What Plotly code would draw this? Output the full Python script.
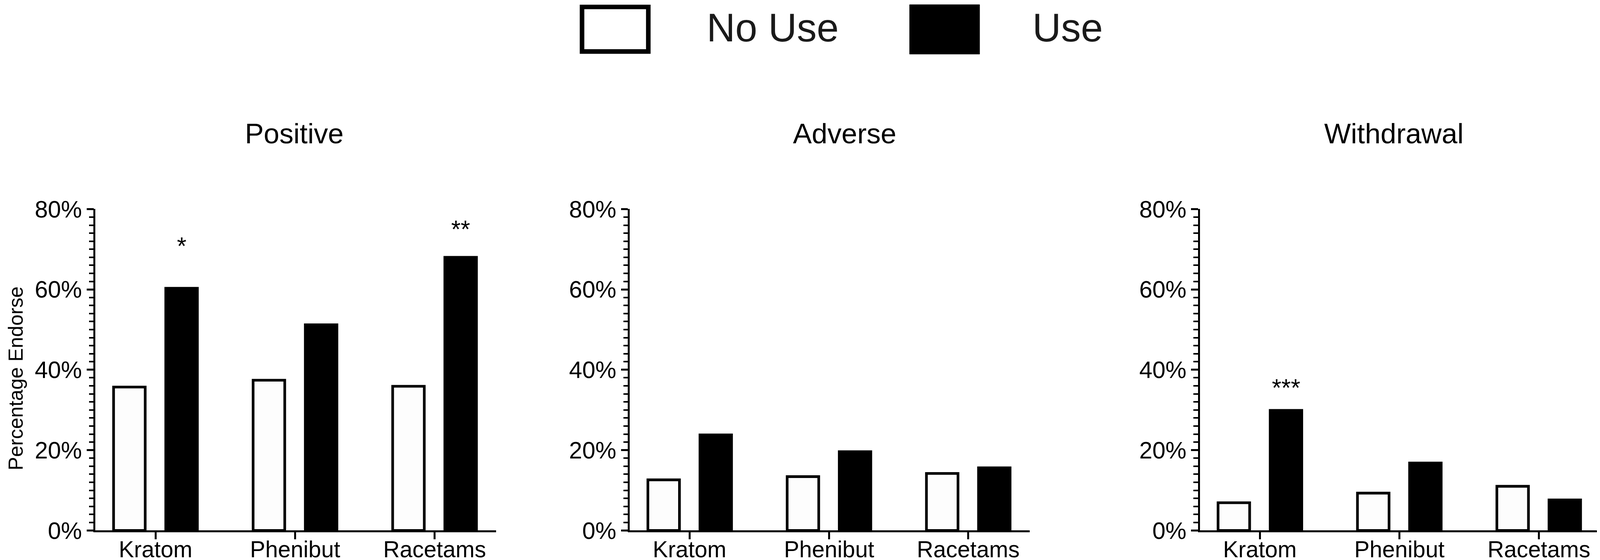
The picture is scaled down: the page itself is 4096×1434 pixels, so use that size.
import plotly.graph_objects as go

# ---------------- data ----------------
categories = ["Kratom", "Phenibut", "Racetams"]
panel_titles = ["Positive", "Adverse", "Withdrawal"]

positive_no_use = [35.7, 37.4, 35.9]
positive_use = [60.3, 51.2, 68.0]
adverse_no_use = [12.6, 13.4, 14.2]
adverse_use = [23.8, 19.6, 15.6]
withdrawal_no_use = [6.9, 9.3, 11.0]
withdrawal_use = [29.9, 16.8, 7.6]

positive_sig = ["*", "", "**"]
adverse_sig = ["", "", ""]
withdrawal_sig = ["***", "", ""]
# vertical centre of each significance mark (percent)
positive_sig_y = [70.9, None, 75.0]
adverse_sig_y = [None, None, None]
withdrawal_sig_y = [35.6, None, None]

y_tick_vals = [0, 20, 40, 60, 80]
y_tick_text = ["0%", "20%", "40%", "60%", "80%"]
series_names = ["No Use", "Use"]
y_title = "Percentage Endorse"

# ---------------- layout constants ----------------
S = 0.975
W, H = 4096, 1434
FONT = "Liberation Sans, Arial, Helvetica, sans-serif"


def fx(px):
    return px * S / W


def fy(px):
    return 1 - px * S / H


panel_px = [(242.5, 1294), (1645.5, 2695), (3142.5, 4193)]
title_cx = [765, 2210, 3652]
y_top_px, y_bot_px = 541, 1385

LW = 5 * S
BAR_LW = 7 * S
BARGAP = 0.252
BARGROUPGAP = 0.394
TICK_FONT = 62 * S
CAT_FONT = 60 * S

no_use_sets = [positive_no_use, adverse_no_use, withdrawal_no_use]
use_sets = [positive_use, adverse_use, withdrawal_use]
sig_sets = [positive_sig, adverse_sig, withdrawal_sig]
sig_y_sets = [positive_sig_y, adverse_sig_y, withdrawal_sig_y]

fig = go.Figure()
annotations = []
shapes = []

for i, title in enumerate(panel_titles):
    sfx = "" if i == 0 else str(i + 1)
    xa, ya = "x" + sfx, "y" + sfx
    fig.add_trace(go.Bar(
        x=categories, y=no_use_sets[i], name=series_names[0],
        xaxis=xa, yaxis=ya, showlegend=False,
        marker=dict(color="#fdfdfd", line=dict(color="black", width=BAR_LW)),
    ))
    fig.add_trace(go.Bar(
        x=categories, y=use_sets[i], name=series_names[1],
        xaxis=xa, yaxis=ya, showlegend=False,
        marker=dict(color="black", line=dict(color="black", width=BAR_LW)),
    ))
    x0, x1 = panel_px[i]
    xaxis = dict(
        domain=[fx(x0), fx(x1)], anchor=ya, automargin=False,
        type="category", categoryorder="array", categoryarray=categories,
        range=[-0.43, 2.44], fixedrange=True,
        showline=True, linecolor="black", linewidth=LW,
        ticks="outside", ticklen=18 * S, tickwidth=LW, tickcolor="black",
        showticklabels=False,
        showgrid=False, zeroline=False,
    )
    yaxis = dict(
        domain=[fy(y_bot_px), fy(y_top_px)], anchor=xa, automargin=False,
        range=[0, 80], fixedrange=True,
        showline=True, linecolor="black", linewidth=LW,
        tickmode="array", tickvals=y_tick_vals, ticktext=y_tick_text,
        ticks="outside", ticklen=18 * S, tickwidth=LW, tickcolor="black",
        minor=dict(dtick=2, ticks="outside", ticklen=12 * S, tickwidth=LW * 0.9,
                   tickcolor="black", showgrid=False),
        showgrid=False, zeroline=False,
        tickfont=dict(family=FONT, size=TICK_FONT, color="black"),
    )
    fig.layout["xaxis" + sfx] = xaxis
    fig.layout["yaxis" + sfx] = yaxis

    # category labels (placed just under the axis)
    for j, cat in enumerate(categories):
        annotations.append(dict(
            text=cat, xref=xa, yref="paper",
            x=j, y=0, xanchor="center", yanchor="bottom", yshift=1,
            showarrow=False, font=dict(family=FONT, size=CAT_FONT, color="black"),
        ))

    # panel title
    annotations.append(dict(
        text=title, xref="paper", yref="paper",
        x=fx(title_cx[i]), y=fy(343), xanchor="center", yanchor="middle",
        showarrow=False, font=dict(family=FONT, size=74 * S, color="black"),
    ))

    # significance marks over the "Use" bars
    use_offset = (1 - BARGAP) / 4
    for j, lab in enumerate(sig_sets[i]):
        if lab and sig_y_sets[i][j] is not None:
            annotations.append(dict(
                text=lab, xref=xa, yref=ya,
                x=j + use_offset, y=sig_y_sets[i][j],
                xanchor="center", yanchor="middle", yshift=0,
                showarrow=False, font=dict(family=FONT, size=64 * S, color="black"),
            ))

# y-axis title (first panel only)
annotations.append(dict(
    text=y_title, xref="paper", yref="paper",
    x=fx(33), y=fy(986), xanchor="center", yanchor="middle",
    textangle=-90, showarrow=False,
    font=dict(family=FONT, size=53 * S, color="black"),
))

# ---------------- legend (drawn) ----------------
LEG_LW = 12 * S
shapes.append(dict(
    type="rect", xref="paper", yref="paper",
    x0=fx(1520), x1=fx(1694), y0=fy(127), y1=fy(10),
    line=dict(color="black", width=LEG_LW), fillcolor="white",
))
shapes.append(dict(
    type="rect", xref="paper", yref="paper",
    x0=fx(2380), x1=fx(2564), y0=fy(134), y1=fy(4),
    line=dict(color="black", width=1), fillcolor="black",
))
annotations.append(dict(
    text=series_names[0], xref="paper", yref="paper",
    x=fx(1845), y=fy(64), xanchor="left", yanchor="middle",
    showarrow=False, font=dict(family=FONT, size=104 * S, color="#1a1a1a"),
))
annotations.append(dict(
    text=series_names[1], xref="paper", yref="paper",
    x=fx(2700), y=fy(64), xanchor="left", yanchor="middle",
    showarrow=False, font=dict(family=FONT, size=104 * S, color="#1a1a1a"),
))

fig.update_layout(
    width=W, height=H,
    margin=dict(l=0, r=0, t=0, b=0, pad=0, autoexpand=False),
    paper_bgcolor="white", plot_bgcolor="white",
    barmode="group", bargap=BARGAP, bargroupgap=BARGROUPGAP,
    annotations=annotations, shapes=shapes,
    font=dict(family=FONT, color="black"),
    showlegend=False,
)

fig.write_html("out.html", config={"displayModeBar": False})
